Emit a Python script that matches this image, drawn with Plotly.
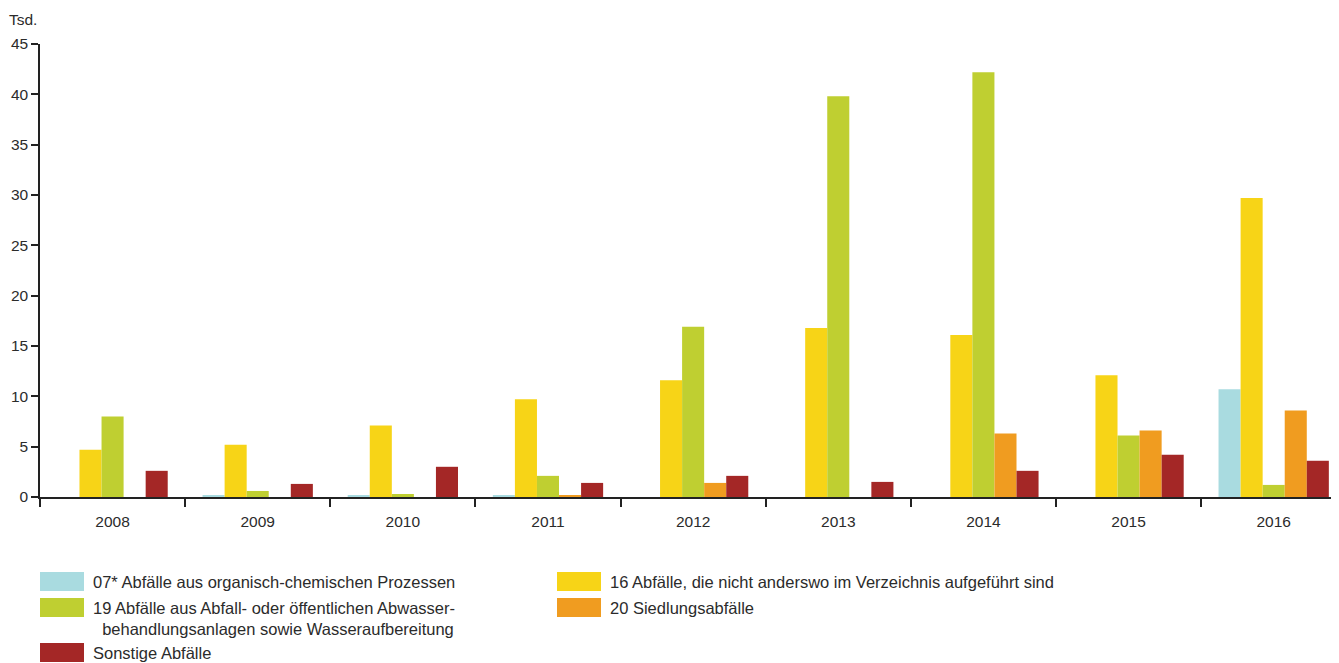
import plotly.graph_objects as go

years = ["2008", "2009", "2010", "2011", "2012", "2013", "2014", "2015", "2016"]
s07 = [0, 0.1, 0.1, 0.1, 0, 0, 0, 0, 10.7]
s16 = [4.7, 5.2, 7.1, 9.7, 11.6, 16.8, 16.1, 12.1, 29.7]
s19 = [8.0, 0.6, 0.3, 2.1, 16.9, 39.8, 42.2, 6.1, 1.2]
s20 = [0, 0, 0, 0.2, 1.4, 0, 6.3, 6.6, 8.6]
sonst = [2.6, 1.3, 3.0, 1.4, 2.1, 1.5, 2.6, 4.2, 3.6]

names = [
    "07* Abfälle aus organisch-chemischen Prozessen",
    "16 Abfälle, die nicht anderswo im Verzeichnis aufgeführt sind",
    "19 Abfälle aus Abfall- oder öffentlichen Abwasser-<br>&nbsp;&nbsp;behandlungsanlagen sowie Wasseraufbereitung",
    "20 Siedlungsabfälle",
    "Sonstige Abfälle",
]
colors = ["#a9dbe0", "#f7d417", "#bfcf31", "#f09c20", "#a42726"]
series = [s07, s16, s19, s20, sonst]

FONT = "Liberation Sans, Arial, sans-serif"
TXT = "#2b2b2b"
OFF = 8  # page body margin
W, H = 1339 - OFF, 663 - OFF
ML, MR, MT, MB = 40 - OFF, 0, 44 - OFF, 166
PW, PH = W - ML - MR, H - MT - MB

fig = go.Figure()
for n, c, v in zip(names, colors, series):
    fig.add_trace(go.Bar(x=years, y=v, name=n, marker=dict(color=c, line=dict(width=0)),
                         showlegend=False))

def px2paper(x, y):
    # x, y are page pixel coordinates
    x -= OFF
    y -= OFF
    return (x - ML) / PW, (H - MB - y) / PH

# manual legend (positions in page pixels)
leg_pos = [(40, 572), (557, 572), (40, 598), (557, 598), (40, 643)]
shapes = []
annotations = []
for (lx, ly), n, c in zip(leg_pos, names, colors):
    x0, y0 = px2paper(lx, ly)
    x1, y1 = px2paper(lx + 44, ly + 19)
    shapes.append(dict(type="rect", xref="paper", yref="paper", x0=x0, x1=x1, y0=y1, y1=y0,
                       fillcolor=c, line=dict(width=0)))
    tx, ty = px2paper(lx + 51, ly - 1)
    annotations.append(dict(text=n, xref="paper", yref="paper", x=tx, y=ty,
                            xanchor="left", yanchor="top", align="left", showarrow=False,
                            font=dict(family=FONT, size=16.5, color=TXT)))

tx, ty = px2paper(7, 20)
annotations.append(dict(text="Tsd.", xref="paper", yref="paper", x=tx, y=ty,
                        xanchor="left", yanchor="middle", showarrow=False,
                        font=dict(family=FONT, size=15.5, color=TXT)))

fig.update_layout(
    width=W, height=H,
    margin=dict(l=ML, r=MR, t=MT, b=MB, pad=0),
    paper_bgcolor="white", plot_bgcolor="white",
    barmode="group", bargap=0.24, bargroupgap=0,
    font=dict(family=FONT, size=15.5, color=TXT),
    shapes=shapes, annotations=annotations,
    xaxis=dict(range=[-0.5, 8.45], showline=True, linecolor="#222222", linewidth=2,
               ticks="outside", ticklen=8, tickcolor="#222222", tickwidth=1.5,
               tickson="boundaries", showgrid=False, zeroline=False,
               ticklabelstandoff=9,
               tickfont=dict(family=FONT, size=15.5, color=TXT)),
    yaxis=dict(range=[0, 45], tickvals=[0, 5, 10, 15, 20, 25, 30, 35, 40, 45],
               showline=True, linecolor="#222222", linewidth=1.5,
               ticks="outside", ticklen=7, tickcolor="#222222", tickwidth=1.5,
               showgrid=False, zeroline=False,
               tickfont=dict(family=FONT, size=15.5, color=TXT)),
)

fig.write_html("out.html")
